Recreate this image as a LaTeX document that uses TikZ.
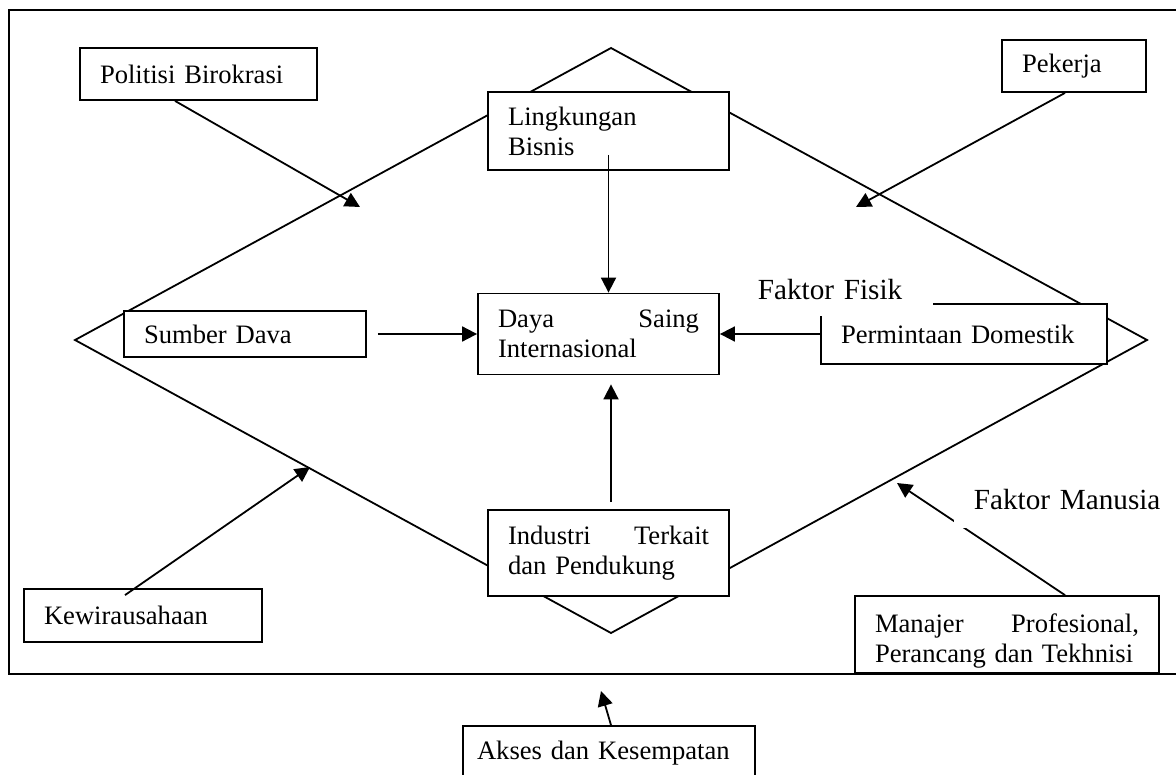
\documentclass[tikz,border=0pt]{standalone}
\usepackage{fontspec}
\setmainfont{Liberation Serif}
\usetikzlibrary{arrows.meta,positioning,calc}

\begin{document}
\begin{tikzpicture}[
  x=0.5pt, y=-0.5pt,
  line width=0.9pt,
  box/.style={rectangle, draw, fill=white, align=left, inner xsep=10pt, inner ysep=1pt, font=\fontsize{13.3}{15}\selectfont},
  faktor/.style={fill=white, align=left, anchor=north west, inner ysep=1pt, font=\fontsize{14.6}{17}\selectfont},
  arrow/.style={-{Triangle[length=7.5pt, width=7.5pt]}},
]
  \useasboundingbox (0,0) rectangle (1176,775);
  \clip (0,0) rectangle (1176,775);

  % frame and diamond
  \draw (9,10) rectangle (1200,674);
  \draw (611,48) -- (1147,340) -- (611,633) -- (75,340) -- cycle;

  \node[box, text width=98.5pt, minimum height=26pt] (polit) at (198.5,74) {Politisi Birokrasi};
  \node[box, text width=100.5pt, minimum height=39pt] (ling) at (608.5,131) {Lingkungan\\Bisnis};
  \node[box, text width=52pt, minimum height=26pt] (pekerja) at (1074,66) {Pekerja};
  \node[box, text width=101pt, minimum height=23pt] (sumber) at (245,334) {Sumber Dava};
  \node[box, text width=100.5pt, minimum height=40.5pt] (daya) at (598.5,334) {Daya \hfill Saing\\Internasional};
  \node[box, text width=123pt, minimum height=30pt] (minta) at (964,334) {Permintaan Domestik};
  \node[box, text width=100.5pt, minimum height=43pt] (industri) at (608.5,553) {Industri \hfill Terkait\\dan Pendukung};
  \node[box, text width=99pt, minimum height=26.5pt] (wira) at (143,615.5) {Kewirausahaan};
  \node[box, text width=132pt, minimum height=38.5pt, text depth=11.5pt] (manajer) at (1007,634.5) {Manajer \hfill Profesional,\\Perancang dan Tekhnisi};
  \node[box, text width=132pt, inner xsep=7pt, minimum height=27pt] (akses) at (609,753) {Akses dan Kesempatan};

  % tips on the diamond
  \coordinate (tip polit) at (360,207);
  \coordinate (tip pekerja) at (856,207);
  \coordinate (tip wira) at (310,467);
  \coordinate (tip manajer) at (897,483);
  \coordinate (tip akses) at (601,691);

  \draw[arrow] ($(polit.south)+(-23.5,0)$) -- (tip polit);
  \draw[arrow] ($(pekerja.south)+(-9,0)$) -- (tip pekerja);
  \draw[arrow] ($(ling.south)+(0,-16)$) -- (ling.south |- daya.north);
  \draw[arrow] ($(sumber.east)+(11,0)$) -- (daya.west);
  \draw[arrow] (minta) -- (daya);
  \draw[arrow] ($(industri.north)+(2.5,-7)$) -- ($(industri.north |- daya.south)+(2.5,9)$);
  \draw[arrow] ($(wira.north)+(-18,7)$) -- (tip wira);
  \draw[arrow] ($(manajer.north)+(58,0)$) -- (tip manajer);
  \draw[arrow] ($(akses.north)+(2,0)$) -- (tip akses);

  \node[faktor, text width=83.5pt, inner xsep=4pt, minimum height=26.5pt] (fisik) at (749,262) {Faktor Fisik};
  \node[faktor, text width=100pt, inner xsep=10pt, minimum height=28.5pt] (manusia) at (953,470) {Faktor Manusia};
\end{tikzpicture}
\end{document}
